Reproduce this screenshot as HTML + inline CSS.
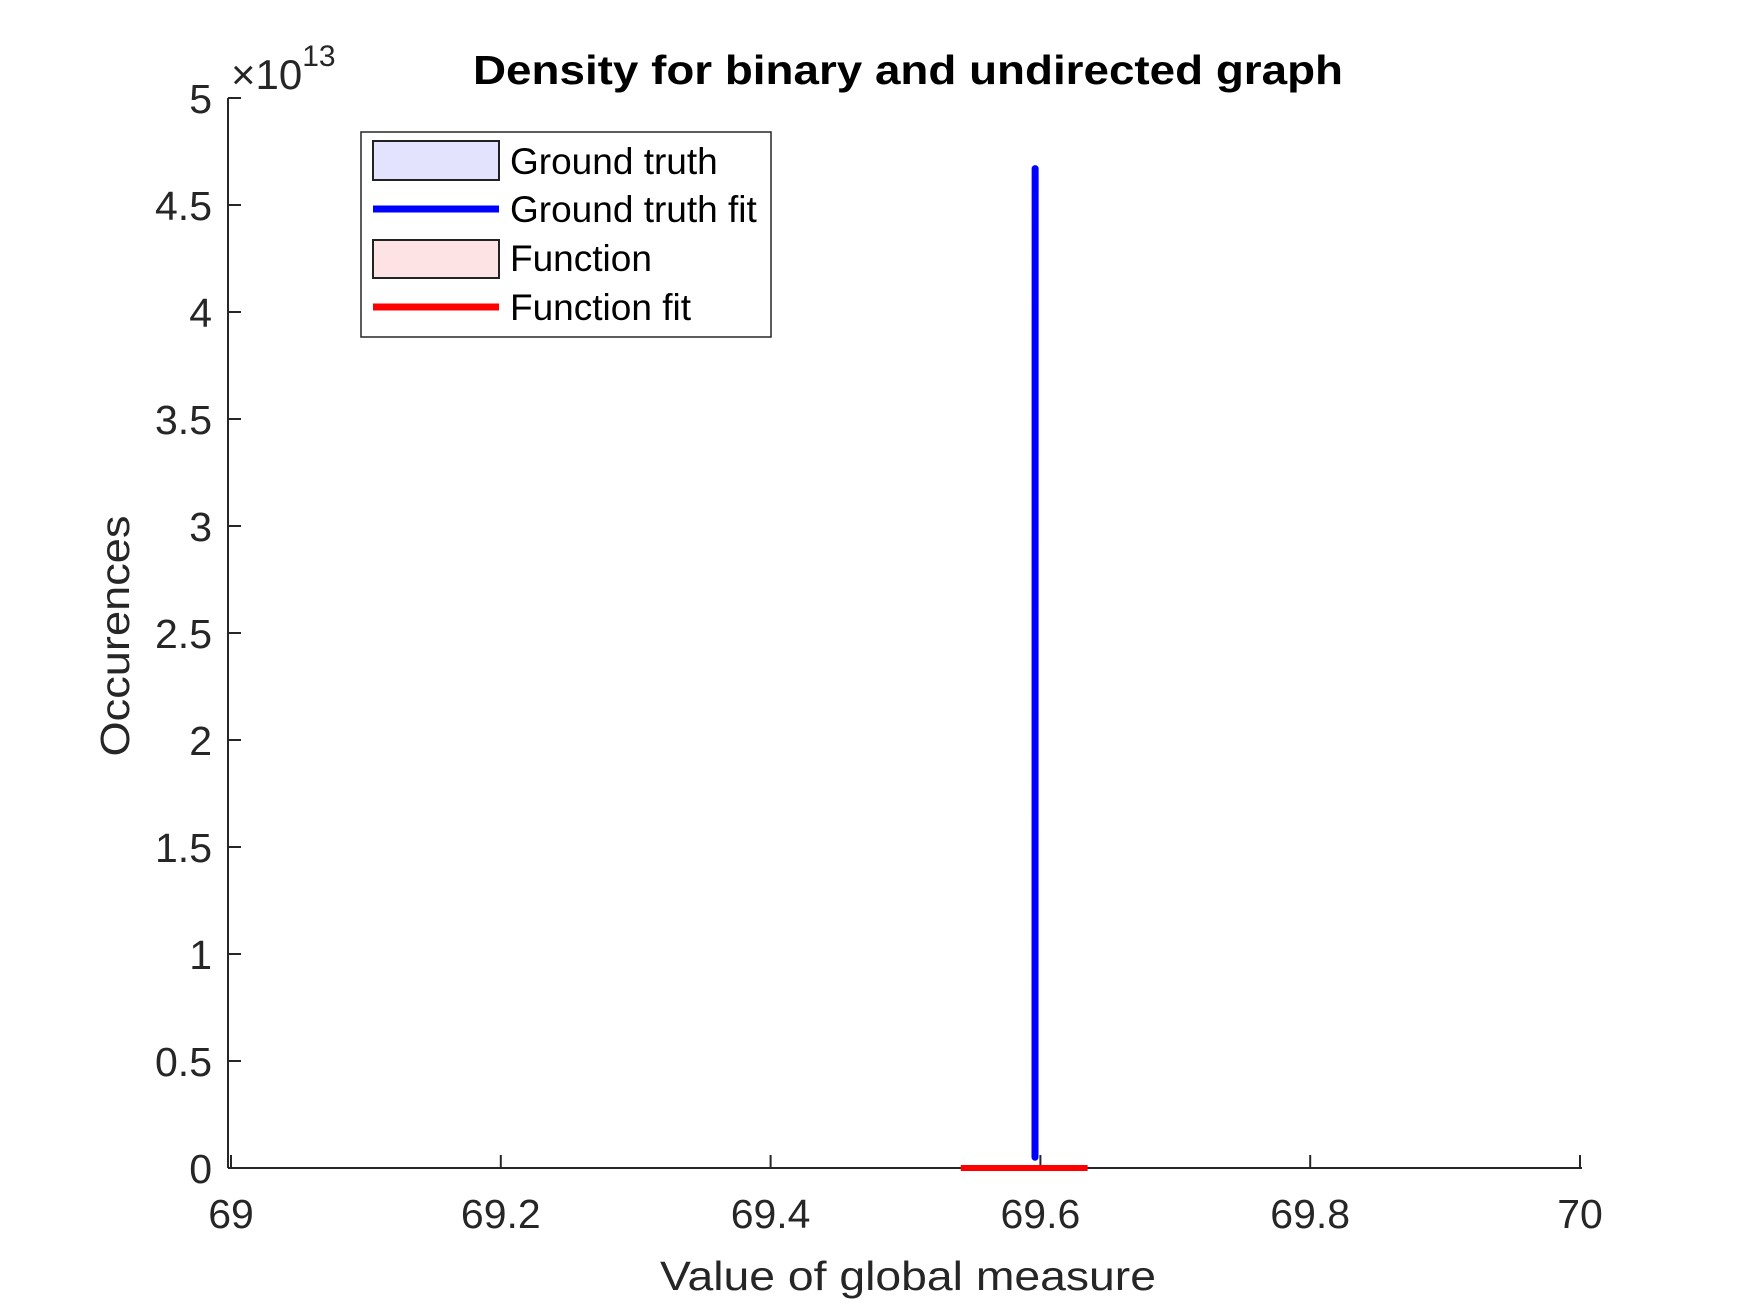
<!DOCTYPE html>
<html><head><meta charset="utf-8"><style>
html,body{margin:0;padding:0;background:#fff;}
svg{display:block;font-family:"Liberation Sans",Arial,sans-serif;}
</style></head><body>
<svg id="chart" width="1750" height="1313" viewBox="0 0 1750 1313">
<rect x="0" y="0" width="1750" height="1313" fill="#fff"/>
<text x="908" y="84" text-anchor="middle" font-size="41" font-weight="bold" fill="#000" textLength="870" lengthAdjust="spacingAndGlyphs">Density for binary and undirected graph</text>
<g id="axes"></g>
<g id="series"></g>
<text x="231" y="89" font-size="42" fill="#262626">×10<tspan font-size="30" dy="-23">13</tspan></text>
<text x="908" y="1290" text-anchor="middle" font-size="41" fill="#262626" textLength="496" lengthAdjust="spacingAndGlyphs">Value of global measure</text>
<text transform="translate(129,636) rotate(-90)" text-anchor="middle" font-size="41" fill="#262626" textLength="241" lengthAdjust="spacingAndGlyphs">Occurences</text>
<g>
<rect x="361" y="132" width="410" height="205" fill="#fff" stroke="#262626" stroke-width="1.5"/>
<rect x="373" y="141" width="126" height="39" fill="#e3e3fd" stroke="#222" stroke-width="2"/>
<text x="510" y="174" font-size="37" fill="#000">Ground truth</text>
<line x1="373" y1="209" x2="499" y2="209" stroke="#0000ff" stroke-width="7"/>
<text x="510" y="222" font-size="37" fill="#000">Ground truth fit</text>
<rect x="373" y="240" width="126" height="38" fill="#fde3e3" stroke="#222" stroke-width="2"/>
<text x="510" y="271" font-size="37" fill="#000">Function</text>
<line x1="373" y1="307" x2="499" y2="307" stroke="#ff0000" stroke-width="7"/>
<text x="510" y="320" font-size="37" fill="#000">Function fit</text>
</g>
</svg>
<script>
const xTicks = [69, 69.2, 69.4, 69.6, 69.8, 70];
const xTickLabels = ["69", "69.2", "69.4", "69.6", "69.8", "70"];
const yTicks = [0, 0.5, 1, 1.5, 2, 2.5, 3, 3.5, 4, 4.5, 5];
const yTickLabels = ["0", "0.5", "1", "1.5", "2", "2.5", "3", "3.5", "4", "4.5", "5"];
const gtFitX = [69.5960, 69.5961];
const gtFitY = [0.05, 4.67];
const fnFitX = [69.541, 69.588, 69.635];
const fnFitY = [0, 0, 0];

const NS = "http://www.w3.org/2000/svg";
function sx(v){ return 231 + (v - 69) * 1349; }
function sy(v){ return 1168 - v / 5 * 1070; }
function mk(tag, attrs, parent){
  const e = document.createElementNS(NS, tag);
  for (const k in attrs) e.setAttribute(k, attrs[k]);
  parent.appendChild(e);
  return e;
}
const axes = document.getElementById('axes');
const series = document.getElementById('series');
let el = mk('line', {x1:228, y1:sy(0), x2:1582, y2:sy(0), stroke:'#262626', 'stroke-width':2}, axes);


el = mk('line', {x1:228, y1:sy(5), x2:228, y2:sy(0), stroke:'#262626', 'stroke-width':2}, axes);


xTicks.forEach((t, i) => {
  const x = sx(t);
  let tk = mk('line', {x1:x, y1:sy(0), x2:x, y2:sy(0) - 13, stroke:'#262626', 'stroke-width':2}, axes);
  
  
  let lb = mk('text', {x:x, y:1228, 'text-anchor':'middle', 'font-size':41, fill:'#262626'}, axes);
  lb.textContent = xTickLabels[i];
  
  
});
yTicks.forEach((t, i) => {
  const y = sy(t);
  let tk = mk('line', {x1:228, y1:y, x2:241, y2:y, stroke:'#262626', 'stroke-width':2}, axes);
  
  
  let lb = mk('text', {x:212, y:y + 15, 'text-anchor':'end', 'font-size':41, fill:'#262626'}, axes);
  lb.textContent = yTickLabels[i];
  
  
});
function pts(xs, ys){ return xs.map((v, i) => sx(v) + ',' + sy(ys[i])).join(' '); }
let fn = mk('polyline', {points:pts(fnFitX, fnFitY), fill:'none', stroke:'#ff0000', 'stroke-width':6}, series);


let gt = mk('polyline', {points:pts(gtFitX, gtFitY), fill:'none', stroke:'#0000ff', 'stroke-width':7, 'stroke-linecap':'round'}, series);


</script>
</body></html>
